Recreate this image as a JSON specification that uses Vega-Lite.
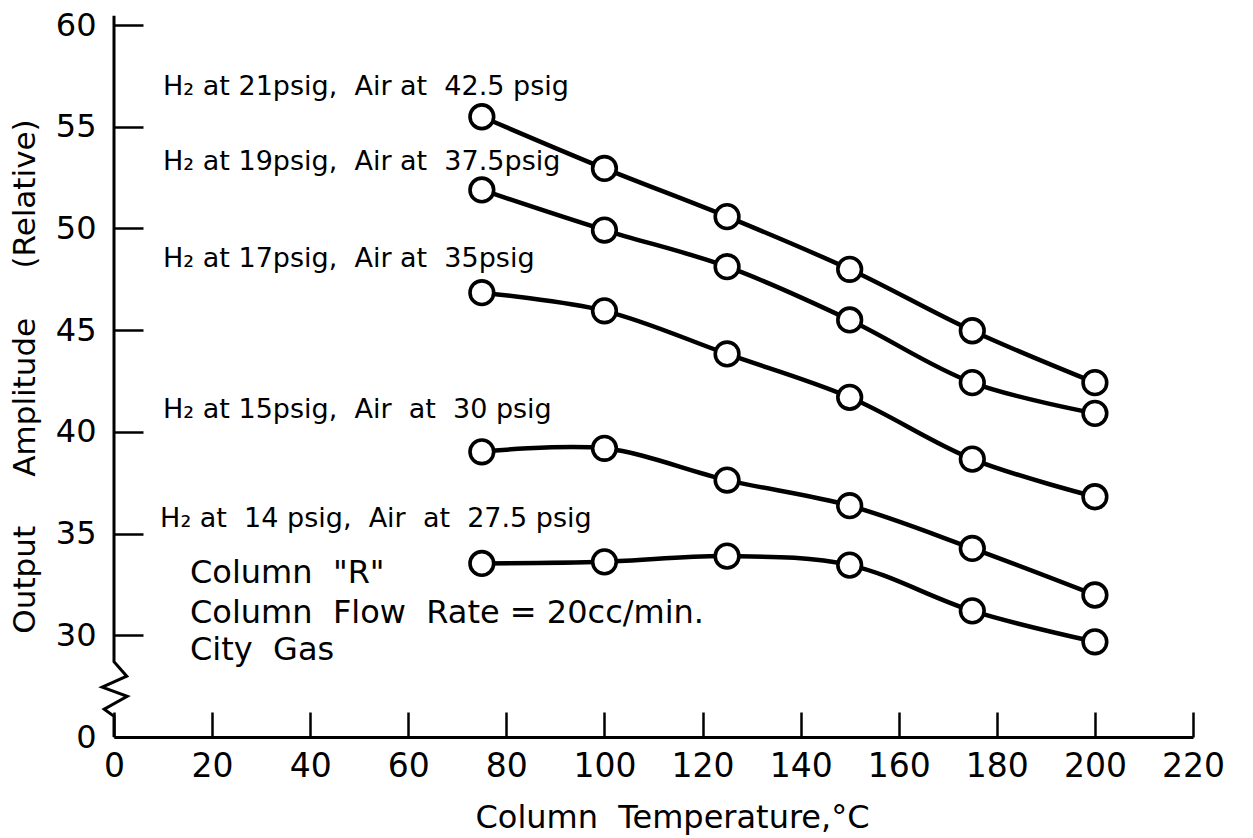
{
  "$schema": "https://vega.github.io/schema/vega-lite/v6.json",
  "width": 1079,
  "height": 712,
  "autosize": {"type": "none"},
  "padding": {"left": 114, "top": 25, "right": 60, "bottom": 101},
  "background": "white",
  "config": {"view": {"stroke": null}, "font": "DejaVu Sans"},
  "datasets": {
    "series": [
      {"series": "H2 21 psig, Air 42.5 psig", "temp": 75, "amp": 55.49},
      {"series": "H2 21 psig, Air 42.5 psig", "temp": 100, "amp": 52.95},
      {"series": "H2 21 psig, Air 42.5 psig", "temp": 125, "amp": 50.58},
      {"series": "H2 21 psig, Air 42.5 psig", "temp": 150, "amp": 47.99},
      {"series": "H2 21 psig, Air 42.5 psig", "temp": 175, "amp": 44.97},
      {"series": "H2 21 psig, Air 42.5 psig", "temp": 200, "amp": 42.42},
      {"series": "H2 19 psig, Air 37.5 psig", "temp": 75, "amp": 51.89},
      {"series": "H2 19 psig, Air 37.5 psig", "temp": 100, "amp": 49.92},
      {"series": "H2 19 psig, Air 37.5 psig", "temp": 125, "amp": 48.12},
      {"series": "H2 19 psig, Air 37.5 psig", "temp": 150, "amp": 45.5},
      {"series": "H2 19 psig, Air 37.5 psig", "temp": 175, "amp": 42.42},
      {"series": "H2 19 psig, Air 37.5 psig", "temp": 200, "amp": 40.91},
      {"series": "H2 17 psig, Air 35 psig", "temp": 75, "amp": 46.84},
      {"series": "H2 17 psig, Air 35 psig", "temp": 100, "amp": 45.95},
      {"series": "H2 17 psig, Air 35 psig", "temp": 125, "amp": 43.83},
      {"series": "H2 17 psig, Air 35 psig", "temp": 150, "amp": 41.7},
      {"series": "H2 17 psig, Air 35 psig", "temp": 175, "amp": 38.66},
      {"series": "H2 17 psig, Air 35 psig", "temp": 200, "amp": 36.81},
      {"series": "H2 15 psig, Air 30 psig", "temp": 75, "amp": 39.02},
      {"series": "H2 15 psig, Air 30 psig", "temp": 100, "amp": 39.19},
      {"series": "H2 15 psig, Air 30 psig", "temp": 125, "amp": 37.63},
      {"series": "H2 15 psig, Air 30 psig", "temp": 150, "amp": 36.37},
      {"series": "H2 15 psig, Air 30 psig", "temp": 175, "amp": 34.27},
      {"series": "H2 15 psig, Air 30 psig", "temp": 200, "amp": 31.98},
      {"series": "H2 14 psig, Air 27.5 psig", "temp": 75, "amp": 33.53},
      {"series": "H2 14 psig, Air 27.5 psig", "temp": 100, "amp": 33.61},
      {"series": "H2 14 psig, Air 27.5 psig", "temp": 125, "amp": 33.89},
      {"series": "H2 14 psig, Air 27.5 psig", "temp": 150, "amp": 33.45},
      {"series": "H2 14 psig, Air 27.5 psig", "temp": 175, "amp": 31.2},
      {"series": "H2 14 psig, Air 27.5 psig", "temp": 200, "amp": 29.68}
    ],
    "axisbreak": [
      {"i": 0, "temp": 0, "amp": 60.45},
      {"i": 1, "temp": 0, "amp": 28.7},
      {"i": 2, "temp": 2.6, "amp": 27.99},
      {"i": 3, "temp": -2.4, "amp": 27.45},
      {"i": 4, "temp": 2.7, "amp": 27.0},
      {"i": 5, "temp": -2.0, "amp": 26.37},
      {"i": 6, "temp": 0, "amp": 26.02},
      {"i": 7, "temp": 0, "amp": 25}
    ],
    "serieslabels": [
      {"temp": 10, "amp": 56.56, "text": "H₂ at 21psig,\u00a0 Air at\u00a0 42.5 psig"},
      {"temp": 10, "amp": 52.87, "text": "H₂ at 19psig,\u00a0 Air at\u00a0 37.5psig"},
      {"temp": 10, "amp": 48.1, "text": "H₂ at 17psig,\u00a0 Air at\u00a0 35psig"},
      {"temp": 10, "amp": 40.68, "text": "H₂ at 15psig,\u00a0 Air\u00a0 at\u00a0 30 psig"},
      {"temp": 9.4, "amp": 35.32, "text": "H₂ at\u00a0 14 psig,\u00a0 Air\u00a0 at\u00a0 27.5 psig"}
    ],
    "notes": [
      {"temp": 15.5, "amp": 32.57, "text": "Column\u00a0 \"R\""},
      {"temp": 15.5, "amp": 30.6, "text": "Column\u00a0 Flow\u00a0 Rate = 20cc/min."},
      {"temp": 15.5, "amp": 28.78, "text": "City\u00a0 Gas"}
    ]
  },
  "encoding": {
    "x": {
      "field": "temp", "type": "quantitative",
      "scale": {"domain": [0, 220], "nice": false, "zero": false},
      "axis": {
        "values": [0, 20, 40, 60, 80, 100, 120, 140, 160, 180, 200, 220],
        "grid": false,
        "domainColor": "black", "domainWidth": 3,
        "tickColor": "black", "tickWidth": 2.5, "tickSize": -25,
        "labelFontSize": 33, "labelColor": "black", "labelPadding": 38,
        "labelFlush": false, "labelOverlap": false, "labelFont": "DejaVu Sans",
        "title": "Column\u00a0 Temperature,°C",
        "titleFontSize": 32, "titleFontWeight": "normal", "titleColor": "black", "titleFont": "DejaVu Sans",
        "titleX": 558, "titleY": 90, "titleBaseline": "alphabetic", "titleAlign": "center"
      }
    },
    "y": {
      "field": "amp", "type": "quantitative",
      "scale": {"domain": [25, 60], "nice": false, "zero": false},
      "axis": {
        "values": [25, 30, 35, 40, 45, 50, 55, 60],
        "labelExpr": "datum.value < 27 ? '0' : datum.label",
        "grid": false, "domain": false,
        "tickColor": "black", "tickWidth": 2.5, "tickSize": -29,
        "labelFontSize": 32, "labelColor": "black", "labelPadding": 47,
        "labelFlush": false, "labelOverlap": false, "labelFont": "DejaVu Sans",
        "title": "Output\u00a0\u00a0\u00a0\u00a0 Amplitude\u00a0\u00a0\u00a0\u00a0 (Relative)",
        "titleFontSize": 31, "titleFontWeight": "normal", "titleColor": "black", "titleFont": "DejaVu Sans",
        "titleX": -89, "titleY": 351, "titleAngle": 270, "titleBaseline": "middle", "titleAlign": "center"
      }
    }
  },
  "layer": [
    {
      "data": {"name": "series"},
      "mark": {"type": "line", "interpolate": "catmull-rom", "color": "black", "strokeWidth": 4.5},
      "encoding": {"detail": {"field": "series"}}
    },
    {
      "data": {"name": "series"},
      "mark": {"type": "point", "shape": "circle", "filled": true, "fill": "white", "stroke": "black", "strokeWidth": 3.6, "size": 560, "opacity": 1}
    },
    {
      "data": {"name": "axisbreak"},
      "mark": {"type": "line", "color": "black", "strokeWidth": 3, "clip": false},
      "encoding": {"order": {"field": "i", "type": "quantitative"}}
    },
    {
      "data": {"name": "serieslabels"},
      "mark": {"type": "text", "align": "left", "baseline": "alphabetic", "fontSize": 27, "font": "DejaVu Sans", "color": "black"},
      "encoding": {"text": {"field": "text"}}
    },
    {
      "data": {"name": "notes"},
      "mark": {"type": "text", "align": "left", "baseline": "alphabetic", "fontSize": 32, "font": "DejaVu Sans", "color": "black"},
      "encoding": {"text": {"field": "text"}}
    }
  ]
}
